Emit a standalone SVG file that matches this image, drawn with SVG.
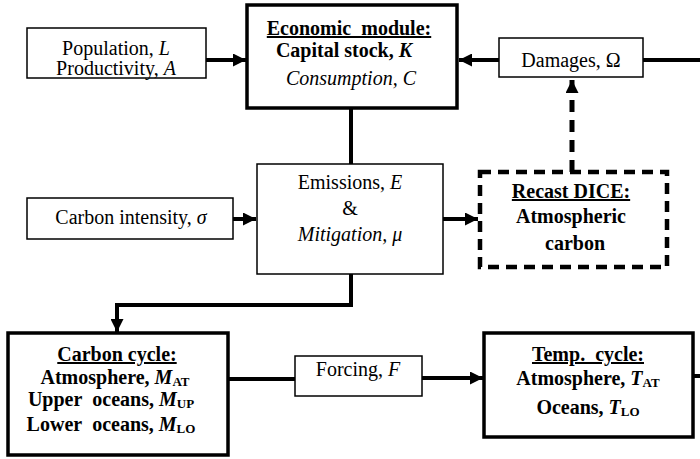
<svg xmlns="http://www.w3.org/2000/svg" width="700" height="459" viewBox="0 0 700 459">
<defs>
<style>
.thin{fill:#fff;stroke:#000;stroke-width:1.5}
.thick{fill:#fff;stroke:#000;stroke-width:3.5}
.dash{fill:#fff;stroke:#000;stroke-width:4.5;stroke-dasharray:11 7}
.t{font-family:'Liberation Serif','DejaVu Serif',serif;font-size:20px;fill:#000;text-anchor:middle}
.b{font-weight:bold}
.i{font-style:italic}
.u{text-decoration:underline}
.sub{font-size:13px;font-style:normal}
.c{fill:none;stroke:#000;stroke-width:4}
.cd{fill:none;stroke:#000;stroke-width:5;stroke-dasharray:12 8}
</style>
<marker id="ah" viewBox="0 0 10 10" refX="10" refY="5" markerWidth="13" markerHeight="13" markerUnits="userSpaceOnUse" orient="auto">
<path d="M0,0 L10,5 L0,10 z" fill="#000"/>
</marker>
</defs>
<rect width="700" height="459" fill="#fff"/>
<g id="connectors">
<path class="c" d="M206,60 L246,60" marker-end="url(#ah)"/>
<path class="c" d="M499,60 L459,60" marker-end="url(#ah)"/>
<path class="c" d="M643,60 L700,60"/>
<path class="cd" d="M572,172 L572,80" marker-end="url(#ah)"/>
<path class="c" d="M351,108 L351,164"/>
<path class="c" d="M233,219 L256,219" marker-end="url(#ah)"/>
<path class="c" d="M443,219 L478,219" marker-end="url(#ah)"/>
<path class="c" d="M351,274 L351,305 L117,305 L117,332" marker-end="url(#ah)"/>
<path class="c" d="M228,379 L295,379"/>
<path class="c" d="M422,378 L483,378" marker-end="url(#ah)"/>
<path class="c" d="M693,376 L700,376"/>
</g>
<g id="population">
<rect class="thin" x="27" y="28" width="179" height="50"/>
<text class="t" x="116" y="55">Population, <tspan class="i">L</tspan></text>
<text class="t" x="116" y="75">Productivity, <tspan class="i">A</tspan></text>
</g>
<g id="economic">
<rect class="thick" x="247" y="5" width="210" height="103"/>
<text class="t b u" x="349" y="35">Economic&#160; module:</text>
<text class="t b" x="344" y="57">Capital stock, <tspan class="i">K</tspan></text>
<text class="t i" x="351" y="85">Consumption, C</text>
</g>
<g id="damages">
<rect class="thin" x="499" y="38" width="144" height="39"/>
<text class="t" x="571" y="67">Damages, Ω</text>
</g>
<g id="carbon-intensity">
<rect class="thin" x="27" y="198" width="206" height="41"/>
<text class="t" x="131" y="224">Carbon intensity, <tspan class="i">σ</tspan></text>
</g>
<g id="emissions">
<rect class="thin" x="257" y="164" width="186" height="110"/>
<text class="t" x="350" y="189">Emissions, <tspan class="i">E</tspan></text>
<text class="t" x="350" y="215">&amp;</text>
<text class="t i" x="350" y="241">Mitigation, μ</text>
</g>
<g id="recast">
<rect class="dash" x="480" y="172" width="187" height="95"/>
<text class="t b u" x="571" y="198">Recast DICE:</text>
<text class="t b" x="571" y="223">Atmospheric</text>
<text class="t b" x="575" y="250">carbon</text>
</g>
<g id="carbon-cycle">
<rect class="thick" x="8" y="333" width="220" height="122"/>
<text class="t b u" x="117" y="361">Carbon cycle:</text>
<text class="t b" x="115" y="384">Atmosphere, <tspan class="i">M</tspan><tspan class="sub" dy="2">AT</tspan></text>
<text class="t b" x="111" y="406">Upper&#160; oceans, <tspan class="i">M</tspan><tspan class="sub" dy="2">UP</tspan></text>
<text class="t b" x="111" y="431">Lower&#160; oceans, <tspan class="i">M</tspan><tspan class="sub" dy="2">LO</tspan></text>
</g>
<g id="forcing">
<rect class="thin" x="295" y="356" width="127" height="40"/>
<text class="t" x="358" y="376">Forcing, <tspan class="i">F</tspan></text>
</g>
<g id="temp-cycle">
<rect class="thick" x="484" y="333" width="209" height="104"/>
<text class="t b u" x="588" y="361">Temp.&#160; cycle:</text>
<text class="t b" x="588" y="385">Atmosphere, <tspan class="i">T</tspan><tspan class="sub" dy="2">AT</tspan></text>
<text class="t b" x="588" y="414">Oceans, <tspan class="i">T</tspan><tspan class="sub" dy="2">LO</tspan></text>
</g>
</svg>
